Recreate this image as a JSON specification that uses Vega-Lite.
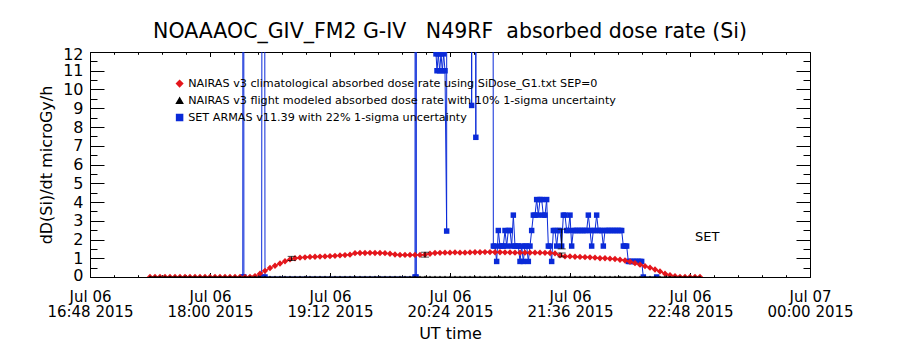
{
  "$schema": "https://vega.github.io/schema/vega-lite/v6.json",
  "width": 720,
  "height": 225,
  "autosize": {"type": "none"},
  "padding": {"left": 90, "top": 52, "right": 90, "bottom": 73},
  "background": "white",
  "title": {"text": "NOAAAOC_GIV_FM2 G-IV\u00a0\u00a0\u00a0N49RF\u00a0\u00a0absorbed dose rate (Si)", "font": "DejaVu Sans", "fontSize": 20.5, "fontWeight": "normal", "color": "black", "anchor": "middle", "frame": "group", "baseline": "alphabetic", "offset": -12},
  "config": {
    "view": {"stroke": "black", "strokeWidth": 1},
    "axis": {"domainColor": "black", "tickColor": "black", "labelColor": "black", "titleColor": "black", "labelFont": "DejaVu Sans", "titleFont": "DejaVu Sans", "titleFontWeight": "normal", "grid": false, "labelFontSize": 16, "titleFontSize": 16, "ticks": true, "tickWidth": 1}
  },
  "datasets": {
    "nairas": [
      {"time":"2015-07-06T17:24","clim":0,"model":0},{"time":"2015-07-06T17:27","clim":0,"model":0},{"time":"2015-07-06T17:30","clim":0,"model":0},{"time":"2015-07-06T17:33","clim":0,"model":0},{"time":"2015-07-06T17:36","clim":0,"model":0},{"time":"2015-07-06T17:39","clim":0,"model":0},{"time":"2015-07-06T17:42","clim":0,"model":0},{"time":"2015-07-06T17:45","clim":0,"model":0},{"time":"2015-07-06T17:48","clim":0,"model":0},{"time":"2015-07-06T17:51","clim":0,"model":0},{"time":"2015-07-06T17:54","clim":0,"model":0},{"time":"2015-07-06T17:57","clim":0,"model":0},{"time":"2015-07-06T18:00","clim":0,"model":0},{"time":"2015-07-06T18:03","clim":0,"model":0},{"time":"2015-07-06T18:06","clim":0,"model":0},{"time":"2015-07-06T18:09","clim":0,"model":0},{"time":"2015-07-06T18:12","clim":0,"model":0},{"time":"2015-07-06T18:15","clim":0,"model":0},{"time":"2015-07-06T18:18","clim":0,"model":0},{"time":"2015-07-06T18:21","clim":0,"model":0},
      {"time":"2015-07-06T18:24","clim":0.01,"model":0},{"time":"2015-07-06T18:27","clim":0.05,"model":0},{"time":"2015-07-06T18:30","clim":0.18,"model":0},{"time":"2015-07-06T18:33","clim":0.33,"model":0},{"time":"2015-07-06T18:36","clim":0.48,"model":0},{"time":"2015-07-06T18:39","clim":0.6,"model":0},{"time":"2015-07-06T18:42","clim":0.72,"model":0},{"time":"2015-07-06T18:45","clim":0.84,"model":0},{"time":"2015-07-06T18:48","clim":0.94,"model":0},{"time":"2015-07-06T18:51","clim":1.0,"model":0},{"time":"2015-07-06T18:54","clim":1.03,"model":0},{"time":"2015-07-06T18:57","clim":1.05,"model":0},{"time":"2015-07-06T19:00","clim":1.07,"model":0},{"time":"2015-07-06T19:03","clim":1.08,"model":0},{"time":"2015-07-06T19:06","clim":1.09,"model":0},{"time":"2015-07-06T19:09","clim":1.1,"model":0},{"time":"2015-07-06T19:12","clim":1.11,"model":0},{"time":"2015-07-06T19:15","clim":1.13,"model":0},{"time":"2015-07-06T19:18","clim":1.15,"model":0},{"time":"2015-07-06T19:21","clim":1.17,"model":0},
      {"time":"2015-07-06T19:24","clim":1.19,"model":0},{"time":"2015-07-06T19:27","clim":1.27,"model":0},{"time":"2015-07-06T19:30","clim":1.28,"model":0},{"time":"2015-07-06T19:33","clim":1.28,"model":0},{"time":"2015-07-06T19:36","clim":1.29,"model":0},{"time":"2015-07-06T19:39","clim":1.28,"model":0},{"time":"2015-07-06T19:42","clim":1.28,"model":0},{"time":"2015-07-06T19:45","clim":1.27,"model":0},{"time":"2015-07-06T19:48","clim":1.24,"model":0},{"time":"2015-07-06T19:51","clim":1.2,"model":0},{"time":"2015-07-06T19:54","clim":1.18,"model":0},{"time":"2015-07-06T19:57","clim":1.18,"model":0},{"time":"2015-07-06T20:00","clim":1.18,"model":0},{"time":"2015-07-06T20:03","clim":1.18,"model":0},{"time":"2015-07-06T20:06","clim":1.18,"model":0},{"time":"2015-07-06T20:09","clim":1.19,"model":0},{"time":"2015-07-06T20:12","clim":1.24,"model":0},{"time":"2015-07-06T20:15","clim":1.28,"model":0},{"time":"2015-07-06T20:18","clim":1.29,"model":0},{"time":"2015-07-06T20:21","clim":1.3,"model":0},
      {"time":"2015-07-06T20:24","clim":1.3,"model":0},{"time":"2015-07-06T20:27","clim":1.31,"model":0},{"time":"2015-07-06T20:30","clim":1.3,"model":0},{"time":"2015-07-06T20:33","clim":1.3,"model":0},{"time":"2015-07-06T20:36","clim":1.31,"model":0},{"time":"2015-07-06T20:39","clim":1.32,"model":0},{"time":"2015-07-06T20:42","clim":1.32,"model":0},{"time":"2015-07-06T20:45","clim":1.33,"model":0},{"time":"2015-07-06T20:48","clim":1.33,"model":0},{"time":"2015-07-06T20:51","clim":1.32,"model":0},{"time":"2015-07-06T20:54","clim":1.32,"model":0},{"time":"2015-07-06T20:57","clim":1.31,"model":0},{"time":"2015-07-06T21:00","clim":1.31,"model":0},{"time":"2015-07-06T21:03","clim":1.3,"model":0},{"time":"2015-07-06T21:06","clim":1.3,"model":0},{"time":"2015-07-06T21:09","clim":1.3,"model":0},{"time":"2015-07-06T21:12","clim":1.3,"model":0},{"time":"2015-07-06T21:15","clim":1.3,"model":0},{"time":"2015-07-06T21:18","clim":1.3,"model":0},{"time":"2015-07-06T21:21","clim":1.29,"model":0},
      {"time":"2015-07-06T21:24","clim":1.28,"model":0},{"time":"2015-07-06T21:27","clim":1.26,"model":0},{"time":"2015-07-06T21:30","clim":1.15,"model":0},{"time":"2015-07-06T21:33","clim":1.1,"model":0},{"time":"2015-07-06T21:36","clim":1.1,"model":0},{"time":"2015-07-06T21:39","clim":1.08,"model":0},{"time":"2015-07-06T21:42","clim":1.07,"model":0},{"time":"2015-07-06T21:45","clim":1.06,"model":0},{"time":"2015-07-06T21:48","clim":1.05,"model":0},{"time":"2015-07-06T21:51","clim":1.03,"model":0},{"time":"2015-07-06T21:54","clim":1.0,"model":0},{"time":"2015-07-06T21:57","clim":1.0,"model":0},{"time":"2015-07-06T22:00","clim":0.98,"model":0},{"time":"2015-07-06T22:03","clim":0.96,"model":0},{"time":"2015-07-06T22:06","clim":0.92,"model":0},{"time":"2015-07-06T22:09","clim":0.88,"model":0},{"time":"2015-07-06T22:12","clim":0.82,"model":0},{"time":"2015-07-06T22:15","clim":0.74,"model":0},{"time":"2015-07-06T22:18","clim":0.66,"model":0},{"time":"2015-07-06T22:21","clim":0.58,"model":0},
      {"time":"2015-07-06T22:24","clim":0.5,"model":0},{"time":"2015-07-06T22:27","clim":0.4,"model":0},{"time":"2015-07-06T22:30","clim":0.3,"model":0},{"time":"2015-07-06T22:33","clim":0.18,"model":0},{"time":"2015-07-06T22:36","clim":0.1,"model":0},{"time":"2015-07-06T22:39","clim":0.04,"model":0},{"time":"2015-07-06T22:42","clim":0.01,"model":0},{"time":"2015-07-06T22:45","clim":0,"model":0},{"time":"2015-07-06T22:48","clim":0,"model":0},{"time":"2015-07-06T22:51","clim":0,"model":0},{"time":"2015-07-06T22:54","clim":0,"model":0}
    ],
    "armas": [
      {"time":"2015-07-06T18:19:40","dose":0},{"time":"2015-07-06T18:20:00","dose":100},{"time":"2015-07-06T18:20:20","dose":0},{"time":"2015-07-06T18:31:00","dose":0},{"time":"2015-07-06T18:32:00","dose":100},{"time":"2015-07-06T18:33:00","dose":0},{"time":"2015-07-06T20:03:00","dose":0},{"time":"2015-07-06T20:03:20","dose":100},{"time":"2015-07-06T20:03:40","dose":0},{"time":"2015-07-06T20:04:00","dose":100},{"time":"2015-07-06T20:10:00","dose":100},
      {"time":"2015-07-06T20:15:36","dose":11.9},{"time":"2015-07-06T20:16:12","dose":11.0},{"time":"2015-07-06T20:17:00","dose":11.9},{"time":"2015-07-06T20:17:48","dose":11.0},{"time":"2015-07-06T20:18:36","dose":11.9},{"time":"2015-07-06T20:19:24","dose":11.0},{"time":"2015-07-06T20:20:12","dose":11.9},{"time":"2015-07-06T20:21:00","dose":11.0},{"time":"2015-07-06T20:22:00","dose":2.45},{"time":"2015-07-06T20:22:12","dose":100},{"time":"2015-07-06T20:30:00","dose":100},{"time":"2015-07-06T20:36:30","dose":100},{"time":"2015-07-06T20:37:00","dose":9.15},{"time":"2015-07-06T20:37:30","dose":100},{"time":"2015-07-06T20:39:00","dose":100},{"time":"2015-07-06T20:39:30","dose":7.45},{"time":"2015-07-06T20:40:00","dose":100},{"time":"2015-07-06T20:49:00","dose":100},
      {"time":"2015-07-06T20:50","dose":1.65},{"time":"2015-07-06T20:51","dose":1.65},{"time":"2015-07-06T20:52","dose":0.83},{"time":"2015-07-06T20:53","dose":2.48},{"time":"2015-07-06T20:54","dose":1.65},{"time":"2015-07-06T20:55","dose":1.65},{"time":"2015-07-06T20:56","dose":1.65},{"time":"2015-07-06T20:57","dose":2.48},{"time":"2015-07-06T20:58","dose":1.65},{"time":"2015-07-06T20:59","dose":2.48},{"time":"2015-07-06T21:00","dose":2.48},{"time":"2015-07-06T21:01","dose":1.65},{"time":"2015-07-06T21:02","dose":3.3},{"time":"2015-07-06T21:03","dose":1.65},{"time":"2015-07-06T21:04","dose":1.65},{"time":"2015-07-06T21:05","dose":1.65},{"time":"2015-07-06T21:06","dose":0.83},{"time":"2015-07-06T21:07","dose":1.65},{"time":"2015-07-06T21:08","dose":0.83},{"time":"2015-07-06T21:09","dose":1.65},{"time":"2015-07-06T21:10","dose":1.65},{"time":"2015-07-06T21:11","dose":0.83},{"time":"2015-07-06T21:12","dose":1.65},{"time":"2015-07-06T21:13","dose":2.48},{"time":"2015-07-06T21:14","dose":3.3},{"time":"2015-07-06T21:15","dose":3.3},{"time":"2015-07-06T21:16","dose":4.13},{"time":"2015-07-06T21:17","dose":3.3},{"time":"2015-07-06T21:18","dose":4.13},{"time":"2015-07-06T21:19","dose":4.13},{"time":"2015-07-06T21:20","dose":3.3},{"time":"2015-07-06T21:21","dose":3.3},{"time":"2015-07-06T21:22","dose":4.13},{"time":"2015-07-06T21:23","dose":1.65},{"time":"2015-07-06T21:24","dose":1.65},{"time":"2015-07-06T21:25","dose":0.83},{"time":"2015-07-06T21:26","dose":2.48},{"time":"2015-07-06T21:27","dose":2.48},{"time":"2015-07-06T21:28","dose":1.65},{"time":"2015-07-06T21:29","dose":2.48},{"time":"2015-07-06T21:30","dose":2.48},{"time":"2015-07-06T21:31","dose":1.65},{"time":"2015-07-06T21:32","dose":3.3},{"time":"2015-07-06T21:33","dose":3.3},{"time":"2015-07-06T21:34","dose":2.48},{"time":"2015-07-06T21:35","dose":2.48},{"time":"2015-07-06T21:36","dose":3.3},{"time":"2015-07-06T21:37","dose":1.65},{"time":"2015-07-06T21:38","dose":2.48},{"time":"2015-07-06T21:39","dose":2.48},{"time":"2015-07-06T21:40","dose":2.48},{"time":"2015-07-06T21:41","dose":2.48},{"time":"2015-07-06T21:42","dose":2.48},{"time":"2015-07-06T21:43","dose":2.48},{"time":"2015-07-06T21:44","dose":2.48},{"time":"2015-07-06T21:45","dose":2.48},{"time":"2015-07-06T21:46","dose":2.48},{"time":"2015-07-06T21:47","dose":3.3},{"time":"2015-07-06T21:48","dose":2.48},{"time":"2015-07-06T21:49","dose":1.65},{"time":"2015-07-06T21:50","dose":2.48},{"time":"2015-07-06T21:51","dose":2.48},{"time":"2015-07-06T21:52","dose":3.3},{"time":"2015-07-06T21:53","dose":2.48},{"time":"2015-07-06T21:54","dose":2.48},{"time":"2015-07-06T21:55","dose":2.48},{"time":"2015-07-06T21:56","dose":1.65},{"time":"2015-07-06T21:57","dose":2.48},{"time":"2015-07-06T21:58","dose":2.48},{"time":"2015-07-06T21:59","dose":2.48},{"time":"2015-07-06T22:00","dose":2.48},{"time":"2015-07-06T22:01","dose":2.48},{"time":"2015-07-06T22:02","dose":2.48},{"time":"2015-07-06T22:03","dose":2.48},{"time":"2015-07-06T22:04","dose":2.48},{"time":"2015-07-06T22:05","dose":2.48},{"time":"2015-07-06T22:06","dose":2.48},{"time":"2015-07-06T22:07","dose":2.48},{"time":"2015-07-06T22:08","dose":1.65},{"time":"2015-07-06T22:09","dose":1.65},{"time":"2015-07-06T22:10","dose":1.65},{"time":"2015-07-06T22:11","dose":0.83},{"time":"2015-07-06T22:12","dose":0.83},{"time":"2015-07-06T22:13","dose":0.83},{"time":"2015-07-06T22:14","dose":0.83},{"time":"2015-07-06T22:15","dose":0.83},{"time":"2015-07-06T22:16","dose":0.83},{"time":"2015-07-06T22:17","dose":0.83},{"time":"2015-07-06T22:18","dose":0.83},{"time":"2015-07-06T22:19","dose":0.83},{"time":"2015-07-06T22:20","dose":0},{"time":"2015-07-06T22:28","dose":0}
    ],
    "bars": [
      {"time":"2015-07-06T18:49","lo":0.88,"hi":1.1},
      {"time":"2015-07-06T20:09","lo":1.06,"hi":1.32},
      {"time":"2015-07-06T21:31","lo":1.07,"hi":1.28},
      {"time":"2015-07-06T21:31","lo":1.5,"hi":2.55}
    ],
    "note": [
      {"time":"2015-07-06T22:51","value":2.15,"label":"SET"}
    ]
  },
  "layer": [
    {
      "layer": [
        {
          "data": {"name": "armas"},
          "mark": {"type": "line", "clip": true, "strokeWidth": 1, "point": {"shape": "square", "size": 30, "filled": true, "clip": true}},
          "encoding": {
            "x": {"field": "time", "type": "temporal", "axis": null,
              "scale": {"domain": [{"year":2015,"month":7,"date":6,"hours":16,"minutes":48},{"year":2015,"month":7,"date":7,"hours":0,"minutes":0}]}},
            "y": {"field": "dose", "type": "quantitative", "axis": null,
              "scale": {"domain": [0, 12], "nice": false, "zero": false}},
            "color": {
              "datum": "SET ARMAS v11.39 with 22% 1-sigma uncertainty",
              "scale": {
                "domain": ["NAIRAS v3 climatological absorbed dose rate using SiDose_G1.txt SEP=0", "NAIRAS v3 flight modeled absorbed dose rate with 10% 1-sigma uncertainty", "SET ARMAS v11.39 with 22% 1-sigma uncertainty"],
                "range": ["#e4161c", "#000000", "#0a2ad8"]
              },
              "legend": {
                "orient": "none", "legendX": 84, "legendY": 26, "title": null,
                "labelFont": "DejaVu Sans", "labelFontSize": 11.2, "labelColor": "black", "labelLimit": 1000,
                "symbolSize": 36, "rowPadding": 4, "labelOffset": 3, "padding": 0,
                "encode": {"symbols": {"update": {
                  "shape": {"signal": "indexof(datum.value, 'SET') === 0 ? 'square' : (indexof(datum.value, 'flight') > 0 ? 'triangle-up' : 'diamond')"},
                  "fill": {"scale": "color", "field": "value"},
                  "stroke": {"value": "transparent"},
                  "opacity": {"value": 1}
                }}}
              }
            }
          }
        },
        {
          "data": {"name": "nairas"},
          "mark": {"type": "line", "clip": true, "strokeWidth": 1, "point": {"shape": "diamond", "size": 40, "filled": true, "clip": true}},
          "encoding": {
            "x": {"field": "time", "type": "temporal", "axis": null},
            "y": {"field": "clim", "type": "quantitative", "axis": null},
            "color": {"datum": "NAIRAS v3 climatological absorbed dose rate using SiDose_G1.txt SEP=0"}
          }
        },
        {
          "data": {"name": "nairas"},
          "mark": {"type": "line", "clip": true, "strokeWidth": 1, "point": {"shape": "triangle-up", "size": 14, "filled": true, "clip": true}},
          "encoding": {
            "x": {"field": "time", "type": "temporal", "axis": null},
            "y": {"field": "model", "type": "quantitative", "axis": null},
            "color": {"datum": "NAIRAS v3 flight modeled absorbed dose rate with 10% 1-sigma uncertainty"}
          }
        },
        {
          "data": {"name": "bars"},
          "mark": {"type": "errorbar", "color": "black", "thickness": 1, "ticks": {"size": 8, "color": "black"}},
          "encoding": {
            "x": {"field": "time", "type": "temporal", "axis": null},
            "y": {"field": "lo", "type": "quantitative", "axis": null},
            "y2": {"field": "hi"}
          }
        },
        {
          "data": {"name": "note"},
          "mark": {"type": "text", "align": "left", "baseline": "middle", "font": "DejaVu Sans", "fontSize": 13, "color": "black"},
          "encoding": {
            "x": {"field": "time", "type": "temporal", "axis": null},
            "y": {"field": "value", "type": "quantitative", "axis": null},
            "text": {"field": "label"}
          }
        }
      ]
    },
    {
      "data": {"name": "note"},
      "mark": {"type": "point", "opacity": 0},
      "encoding": {
        "x": {"field": "time", "type": "temporal",
          "scale": {"domain": [{"year":2015,"month":7,"date":6,"hours":16,"minutes":48},{"year":2015,"month":7,"date":7,"hours":0,"minutes":0}]},
          "axis": {
            "orient": "bottom",
            "values": [{"year":2015,"month":7,"date":6,"hours":16,"minutes":48},{"year":2015,"month":7,"date":6,"hours":18,"minutes":0},{"year":2015,"month":7,"date":6,"hours":19,"minutes":12},{"year":2015,"month":7,"date":6,"hours":20,"minutes":24},{"year":2015,"month":7,"date":6,"hours":21,"minutes":36},{"year":2015,"month":7,"date":6,"hours":22,"minutes":48},{"year":2015,"month":7,"date":7,"hours":0,"minutes":0}],
            "labelExpr": "[timeFormat(datum.value, '%b %d'), timeFormat(datum.value, '%H:%M %Y')]",
            "title": "UT time",
            "labelFontSize": 15,
            "labelPadding": 16.5,
            "labelLineHeight": 15,
            "labelBaseline": "top",
            "labelAngle": 0,
            "labelOverlap": false,
            "labelFlush": false,
            "labelBound": false,
            "titlePadding": 6,
            "tickSize": -4.5
          }
        },
        "y": {"field": "value", "type": "quantitative",
          "scale": {"domain": [0, 12], "nice": false, "zero": false},
          "axis": {
            "orient": "left",
            "values": [0,1,2,3,4,5,6,7,8,9,10,11,12],
            "format": "d",
            "title": "dD(Si)/dt microGy/h",
            "labelPadding": 21,
            "labelFlush": true,
            "labelFlushOffset": 6,
            "labelOverlap": false,
            "titlePadding": 8,
            "tickSize": -14
          }
        }
      }
    },
    {
      "data": {"name": "note"},
      "mark": {"type": "point", "opacity": 0},
      "encoding": {
        "x": {"field": "time", "type": "temporal",
          "scale": {"domain": [{"year":2015,"month":7,"date":6,"hours":16,"minutes":48},{"year":2015,"month":7,"date":7,"hours":0,"minutes":0}]},
          "axis": {
            "orient": "top", "labels": false, "title": null, "domain": false, "tickSize": -4.5,
            "values": [{"year":2015,"month":7,"date":6,"hours":16,"minutes":48},{"year":2015,"month":7,"date":6,"hours":18,"minutes":0},{"year":2015,"month":7,"date":6,"hours":19,"minutes":12},{"year":2015,"month":7,"date":6,"hours":20,"minutes":24},{"year":2015,"month":7,"date":6,"hours":21,"minutes":36},{"year":2015,"month":7,"date":6,"hours":22,"minutes":48},{"year":2015,"month":7,"date":7,"hours":0,"minutes":0}]
          }
        },
        "y": {"field": "value", "type": "quantitative",
          "scale": {"domain": [0, 12], "nice": false, "zero": false},
          "axis": {
            "orient": "right", "labels": false, "title": null, "domain": false, "tickSize": -14,
            "values": [0,1,2,3,4,5,6,7,8,9,10,11,12]
          }
        }
      }
    },
    {
      "data": {"name": "note"},
      "mark": {"type": "point", "opacity": 0},
      "encoding": {
        "x": {"field": "time", "type": "temporal",
          "scale": {"domain": [{"year":2015,"month":7,"date":6,"hours":16,"minutes":48},{"year":2015,"month":7,"date":7,"hours":0,"minutes":0}]},
          "axis": {
            "orient": "bottom", "labels": false, "title": null, "domain": false, "tickSize": -2.3,
            "values": [{"year":2015,"month":7,"date":6,"hours":17,"minutes":2,"seconds":24},{"year":2015,"month":7,"date":6,"hours":17,"minutes":16,"seconds":48},{"year":2015,"month":7,"date":6,"hours":17,"minutes":31,"seconds":12},{"year":2015,"month":7,"date":6,"hours":17,"minutes":45,"seconds":36},{"year":2015,"month":7,"date":6,"hours":18,"minutes":14,"seconds":24},{"year":2015,"month":7,"date":6,"hours":18,"minutes":28,"seconds":48},{"year":2015,"month":7,"date":6,"hours":18,"minutes":43,"seconds":12},{"year":2015,"month":7,"date":6,"hours":18,"minutes":57,"seconds":36},{"year":2015,"month":7,"date":6,"hours":19,"minutes":26,"seconds":24},{"year":2015,"month":7,"date":6,"hours":19,"minutes":40,"seconds":48},{"year":2015,"month":7,"date":6,"hours":19,"minutes":55,"seconds":12},{"year":2015,"month":7,"date":6,"hours":20,"minutes":9,"seconds":36},{"year":2015,"month":7,"date":6,"hours":20,"minutes":38,"seconds":24},{"year":2015,"month":7,"date":6,"hours":20,"minutes":52,"seconds":48},{"year":2015,"month":7,"date":6,"hours":21,"minutes":7,"seconds":12},{"year":2015,"month":7,"date":6,"hours":21,"minutes":21,"seconds":36},{"year":2015,"month":7,"date":6,"hours":21,"minutes":50,"seconds":24},{"year":2015,"month":7,"date":6,"hours":22,"minutes":4,"seconds":48},{"year":2015,"month":7,"date":6,"hours":22,"minutes":19,"seconds":12},{"year":2015,"month":7,"date":6,"hours":22,"minutes":33,"seconds":36},{"year":2015,"month":7,"date":6,"hours":23,"minutes":2,"seconds":24},{"year":2015,"month":7,"date":6,"hours":23,"minutes":16,"seconds":48},{"year":2015,"month":7,"date":6,"hours":23,"minutes":31,"seconds":12},{"year":2015,"month":7,"date":6,"hours":23,"minutes":45,"seconds":36}]
          }
        },
        "y": {"field": "value", "type": "quantitative",
          "scale": {"domain": [0, 12], "nice": false, "zero": false},
          "axis": {
            "orient": "left", "labels": false, "title": null, "domain": false, "tickSize": -7,
            "values": [0.5,1.5,2.5,3.5,4.5,5.5,6.5,7.5,8.5,9.5,10.5,11.5]
          }
        }
      }
    },
    {
      "data": {"name": "note"},
      "mark": {"type": "point", "opacity": 0},
      "encoding": {
        "x": {"field": "time", "type": "temporal",
          "scale": {"domain": [{"year":2015,"month":7,"date":6,"hours":16,"minutes":48},{"year":2015,"month":7,"date":7,"hours":0,"minutes":0}]},
          "axis": {
            "orient": "top", "labels": false, "title": null, "domain": false, "tickSize": -2.3,
            "values": [{"year":2015,"month":7,"date":6,"hours":17,"minutes":2,"seconds":24},{"year":2015,"month":7,"date":6,"hours":17,"minutes":16,"seconds":48},{"year":2015,"month":7,"date":6,"hours":17,"minutes":31,"seconds":12},{"year":2015,"month":7,"date":6,"hours":17,"minutes":45,"seconds":36},{"year":2015,"month":7,"date":6,"hours":18,"minutes":14,"seconds":24},{"year":2015,"month":7,"date":6,"hours":18,"minutes":28,"seconds":48},{"year":2015,"month":7,"date":6,"hours":18,"minutes":43,"seconds":12},{"year":2015,"month":7,"date":6,"hours":18,"minutes":57,"seconds":36},{"year":2015,"month":7,"date":6,"hours":19,"minutes":26,"seconds":24},{"year":2015,"month":7,"date":6,"hours":19,"minutes":40,"seconds":48},{"year":2015,"month":7,"date":6,"hours":19,"minutes":55,"seconds":12},{"year":2015,"month":7,"date":6,"hours":20,"minutes":9,"seconds":36},{"year":2015,"month":7,"date":6,"hours":20,"minutes":38,"seconds":24},{"year":2015,"month":7,"date":6,"hours":20,"minutes":52,"seconds":48},{"year":2015,"month":7,"date":6,"hours":21,"minutes":7,"seconds":12},{"year":2015,"month":7,"date":6,"hours":21,"minutes":21,"seconds":36},{"year":2015,"month":7,"date":6,"hours":21,"minutes":50,"seconds":24},{"year":2015,"month":7,"date":6,"hours":22,"minutes":4,"seconds":48},{"year":2015,"month":7,"date":6,"hours":22,"minutes":19,"seconds":12},{"year":2015,"month":7,"date":6,"hours":22,"minutes":33,"seconds":36},{"year":2015,"month":7,"date":6,"hours":23,"minutes":2,"seconds":24},{"year":2015,"month":7,"date":6,"hours":23,"minutes":16,"seconds":48},{"year":2015,"month":7,"date":6,"hours":23,"minutes":31,"seconds":12},{"year":2015,"month":7,"date":6,"hours":23,"minutes":45,"seconds":36}]
          }
        },
        "y": {"field": "value", "type": "quantitative",
          "scale": {"domain": [0, 12], "nice": false, "zero": false},
          "axis": {
            "orient": "right", "labels": false, "title": null, "domain": false, "tickSize": -7,
            "values": [0.5,1.5,2.5,3.5,4.5,5.5,6.5,7.5,8.5,9.5,10.5,11.5]
          }
        }
      }
    }
  ],
  "resolve": {"scale": {"x": "independent", "y": "independent"}, "axis": {"x": "independent", "y": "independent"}}
}
